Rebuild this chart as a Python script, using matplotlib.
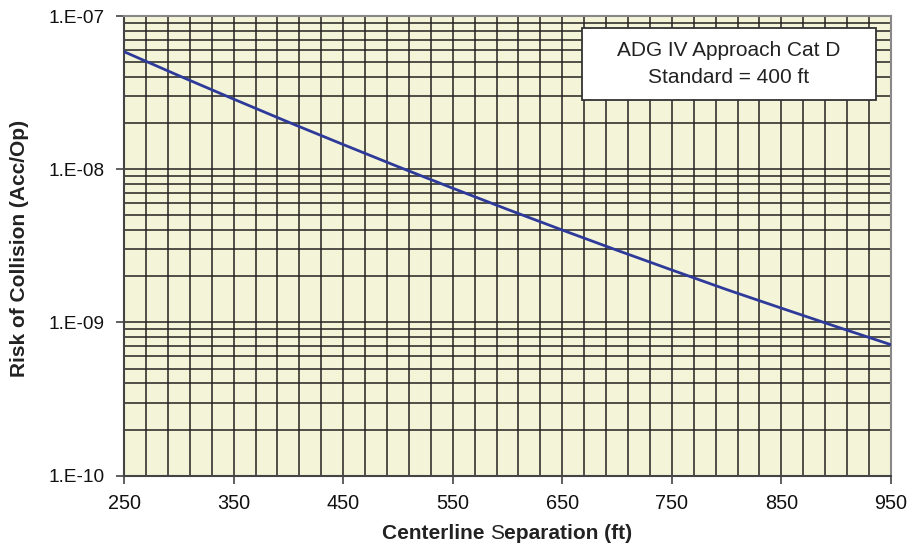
import numpy as np
import matplotlib
matplotlib.use("Agg")
import matplotlib.pyplot as plt
from matplotlib.ticker import FixedLocator, NullFormatter
from matplotlib.patches import Rectangle

plt.rcParams['font.family'] = ['Liberation Sans', 'DejaVu Sans']

# Data
separation = [250, 300, 350, 400, 450, 500, 550, 600, 650, 700, 750, 800, 850, 900, 950]
risk = [5.85e-8, 4.08e-8, 2.87e-8, 2.03e-8, 1.45e-8, 1.04e-8, 7.52e-9, 5.47e-9,
        4.01e-9, 2.96e-9, 2.20e-9, 1.64e-9, 1.24e-9, 9.4e-10, 7.16e-10]
x_ticks = [250, 350, 450, 550, 650, 750, 850, 950]
y_ticks = [1e-10, 1e-9, 1e-8, 1e-7]
y_tick_labels = ["1.E-10", "1.E-09", "1.E-08", "1.E-07"]
x_grid = list(range(250, 951, 20))
y_grid = [m * 10.0 ** e for e in (-10, -9, -8) for m in range(1, 10)] + [1e-7]

fig = plt.figure(figsize=(9.14, 5.48), dpi=100)
ax = fig.add_axes([0.1357, 0.1319, 0.8391, 0.8389])
ax.set_facecolor('#F4F4D8')

ax.set_yscale('log')
ax.set_xlim(250, 950)
ax.set_ylim(1e-10, 1e-7)

for xv in x_grid:
    ax.axvline(xv, color='#222222', lw=1.1, zorder=1)
for yv in y_grid:
    ax.axhline(yv, color='#222222', lw=1.1, zorder=1)

ax.plot(separation, risk, color='#2E3A9A', lw=2.0, zorder=3)

ax.xaxis.set_major_locator(FixedLocator(x_ticks))
ax.set_xticklabels([str(v) for v in x_ticks])
ax.yaxis.set_major_locator(FixedLocator(y_ticks))
ax.set_yticklabels(y_tick_labels)
ax.yaxis.set_minor_locator(FixedLocator([]))
ax.yaxis.set_minor_formatter(NullFormatter())
ax.tick_params(axis='both', which='major', direction='out', length=6, width=1.2,
               color='#444444', labelcolor='#111111')
ax.tick_params(axis='x', labelsize=14.3, pad=7)
ax.tick_params(axis='y', labelsize=13.7, pad=8)

for s in ['left', 'bottom']:
    ax.spines[s].set_color('#444444')
    ax.spines[s].set_linewidth(1.5)
for s in ['top', 'right']:
    ax.spines[s].set_color('#888888')
    ax.spines[s].set_linewidth(1.5)

fig.text(0.021, 0.547, 'Risk of Collision (Acc/Op)', fontsize=15, fontweight='bold',
         color='#222222', rotation=90, ha='center', va='center')

# x label with non-bold "S"
base_y = 0.0164
t1 = fig.text(0.4176, base_y, 'Centerline ', fontsize=15, fontweight='bold',
              color='#222222', ha='left', va='baseline')
t2 = fig.text(0, 0, 'S', fontsize=15, color='#222222', ha='left', va='baseline')
t3 = fig.text(0, 0, 'eparation (ft)', fontsize=15, fontweight='bold',
              color='#222222', ha='left', va='baseline')
fig.canvas.draw()
r = fig.canvas.get_renderer()
bb1 = t1.get_window_extent(r)
t2.set_position((bb1.x1 / fig.bbox.width, base_y))
bb2 = t2.get_window_extent(r)
t3.set_position((bb2.x1 / fig.bbox.width, base_y))

ax.add_patch(Rectangle((0.597, 0.817), 0.383, 0.157, transform=ax.transAxes,
                       facecolor='white', edgecolor='#333333', linewidth=1.3,
                       zorder=5))
ax.text(0.7885, 0.8956, 'ADG IV Approach Cat D\nStandard = 400 ft',
        transform=ax.transAxes, ha='center', va='center', fontsize=15,
        color='#222222', linespacing=1.55, zorder=6)

fig.savefig('out.png', dpi=100)
